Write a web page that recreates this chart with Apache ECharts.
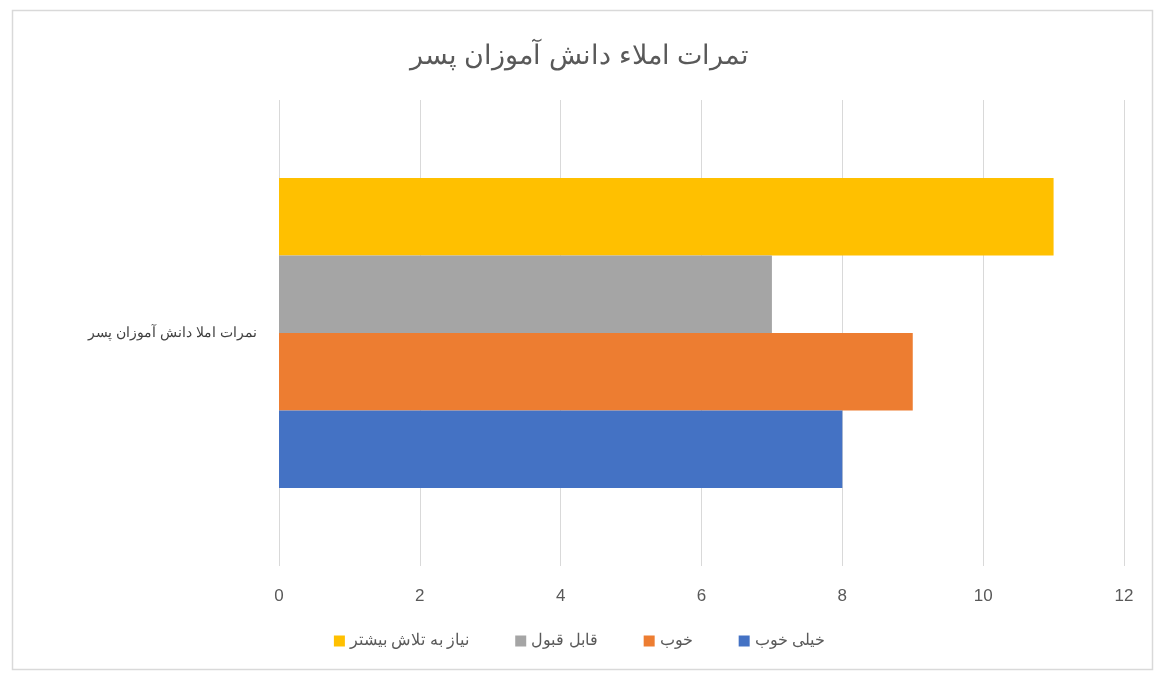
<!DOCTYPE html>
<html><head><meta charset="utf-8">
<script src="https://cdn.jsdelivr.net/npm/echarts@6/dist/echarts.min.js"></script>
<style>html,body{margin:0;padding:0;background:#fff}#c{width:1159px;height:677px}</style>
</head><body><div id="c"></div>
<script>
const titleText = 'تمرات املاء دانش آموزان پسر';
const categories = ['نمرات املا دانش آموزان پسر'];
const seriesNames = ['نیاز به تلاش بیشتر', 'قابل قبول', 'خوب', 'خیلی خوب'];
const seriesValues = [[11], [7], [9], [8]];
const seriesColors = ['#FFC000', '#A5A5A5', '#ED7D31', '#4472C4'];

const chart = echarts.init(document.getElementById('c'), null, {renderer: 'canvas'});
chart.setOption({
  animation: false,
  backgroundColor: '#fff',
  title: {
    text: titleText, left: 'center', top: 38,
    textStyle: {fontFamily: 'Liberation Sans, Arial', fontSize: 27, fontWeight: 'normal', color: '#595959'}
  },
  graphic: [{
    type: 'rect', left: 10, top: 8, shape: {width: 1140, height: 659},
    style: {fill: 'none', stroke: '#d9d9d9', lineWidth: 1.5}, silent: true
  }],
  legend: {
    data: seriesNames, bottom: 23, left: 'center', align: 'left',
    itemWidth: 11, itemHeight: 11, itemGap: 46, icon: 'rect',
    textStyle: {fontFamily: 'Liberation Sans, Arial', fontSize: 16, color: '#595959'}
  },
  grid: {left: 279, right: 35, top: 100, bottom: 111, containLabel: false},
  xAxis: {
    type: 'value', min: 0, max: 12, interval: 2,
    axisLine: {show: false}, axisTick: {show: false},
    axisLabel: {margin: 22, fontFamily: 'Liberation Sans Narrow, Liberation Sans', fontSize: 17, color: '#595959'},
    splitLine: {lineStyle: {color: '#d9d9d9', width: 1}}
  },
  yAxis: {
    type: 'category', data: categories,
    axisLine: {show: false}, axisTick: {show: false},
    axisLabel: {margin: 22, fontFamily: 'Liberation Sans, Arial', fontSize: 14, color: '#404040'}
  },
  series: seriesNames.map((n, i) => ({
    name: n, type: 'bar', data: seriesValues[i],
    itemStyle: {color: seriesColors[i]},
    barGap: '0%', barCategoryGap: '33.5%'
  }))
});
</script></body></html>
